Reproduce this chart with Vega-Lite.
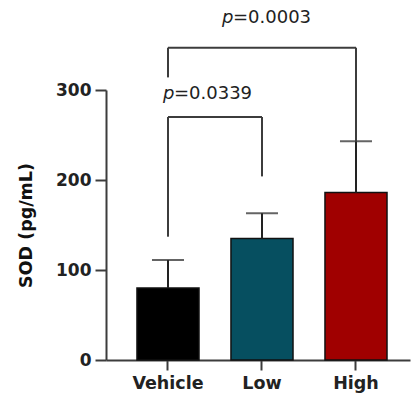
{
  "$schema": "https://vega.github.io/schema/vega-lite/v6.json",
  "autosize": {"type": "none"},
  "width": 304,
  "height": 270,
  "padding": {"left": 106, "top": 90, "right": 3, "bottom": 36},
  "config": {
    "view": {"stroke": null},
    "font": "DejaVu Sans",
    "axis": {
      "domainColor": "#3c3c3c",
      "domainWidth": 2,
      "tickColor": "#3c3c3c",
      "tickWidth": 2,
      "grid": false,
      "labelFont": "DejaVu Sans",
      "labelFontWeight": "bold",
      "labelColor": "#222222",
      "titleFont": "DejaVu Sans",
      "titleFontWeight": "bold",
      "titleColor": "#111111"
    }
  },
  "datasets": {
    "bars": [
      {"group": "Vehicle", "mean": 80, "upper": 111},
      {"group": "Low", "mean": 135, "upper": 163},
      {"group": "High", "mean": 186, "upper": 243}
    ],
    "brackets": [
      {"x1": "Vehicle", "x2": "Low", "y1": 270, "y2": 270},
      {"x1": "Vehicle", "x2": "Vehicle", "y1": 137, "y2": 270},
      {"x1": "Low", "x2": "Low", "y1": 204, "y2": 270},
      {"x1": "Vehicle", "x2": "High", "y1": 347, "y2": 347},
      {"x1": "Vehicle", "x2": "Vehicle", "y1": 314, "y2": 347},
      {"x1": "High", "x2": "High", "y1": 243, "y2": 347}
    ]
  },
  "layer": [
    {
      "data": {"name": "bars"},
      "mark": {"type": "bar", "stroke": "#111111", "strokeWidth": 1.5},
      "encoding": {
        "x": {
          "field": "group",
          "type": "nominal",
          "sort": null,
          "scale": {"domain": ["Vehicle", "Low", "High"], "paddingInner": 0.34, "paddingOuter": 0.287, "align": 0.574},
          "axis": {"title": null, "labelAngle": 0, "labelFontSize": 17.5, "tickSize": 10, "labelPadding": 4}
        },
        "y": {
          "field": "mean",
          "type": "quantitative",
          "scale": {"domain": [0, 300], "nice": false},
          "axis": {"title": "SOD (pg/mL)", "values": [0, 100, 200, 300], "labelFontSize": 17, "tickSize": 11, "labelPadding": 4, "titleFontSize": 17.5, "titlePadding": 20}
        },
        "color": {
          "field": "group",
          "type": "nominal",
          "scale": {"domain": ["Vehicle", "Low", "High"], "range": ["#000000", "#064f60", "#a00000"]},
          "legend": null
        }
      }
    },
    {
      "data": {"name": "bars"},
      "mark": {"type": "rule", "color": "#222222", "strokeWidth": 2},
      "encoding": {
        "x": {"field": "group", "type": "nominal", "sort": null},
        "y": {"field": "mean", "type": "quantitative"},
        "y2": {"field": "upper"}
      }
    },
    {
      "data": {"name": "bars"},
      "mark": {"type": "tick", "color": "#222222", "thickness": 2, "size": 32, "orient": "horizontal"},
      "encoding": {
        "x": {"field": "group", "type": "nominal", "sort": null},
        "y": {"field": "upper", "type": "quantitative"}
      }
    },
    {
      "data": {"name": "brackets"},
      "mark": {"type": "rule", "color": "#3c3c3c", "strokeWidth": 2},
      "encoding": {
        "x": {"field": "x1", "type": "nominal", "sort": null},
        "x2": {"field": "x2"},
        "y": {"field": "y1", "type": "quantitative"},
        "y2": {"field": "y2"}
      }
    },
    {
      "data": {"values": [{"group": "Vehicle", "y": 290, "t": "p"}]},
      "mark": {"type": "text", "align": "left", "baseline": "alphabetic", "fontSize": 18, "fontStyle": "italic", "color": "#222222", "dx": -5},
      "encoding": {
        "x": {"field": "group", "type": "nominal", "sort": null},
        "y": {"field": "y", "type": "quantitative"},
        "text": {"field": "t"}
      }
    },
    {
      "data": {"values": [{"group": "Low", "y": 374.5, "t": "p"}]},
      "mark": {"type": "text", "align": "left", "baseline": "alphabetic", "fontSize": 18, "fontStyle": "italic", "color": "#222222", "dx": -40},
      "encoding": {
        "x": {"field": "group", "type": "nominal", "sort": null},
        "y": {"field": "y", "type": "quantitative"},
        "text": {"field": "t"}
      }
    },
    {
      "data": {"values": [{"group": "Vehicle", "y": 290, "t": "=0.0339"}]},
      "mark": {"type": "text", "align": "left", "baseline": "alphabetic", "fontSize": 18, "color": "#222222", "dx": 6},
      "encoding": {
        "x": {"field": "group", "type": "nominal", "sort": null},
        "y": {"field": "y", "type": "quantitative"},
        "text": {"field": "t"}
      }
    },
    {
      "data": {"values": [{"group": "Low", "y": 374.5, "t": "=0.0003"}]},
      "mark": {"type": "text", "align": "left", "baseline": "alphabetic", "fontSize": 18, "color": "#222222", "dx": -29},
      "encoding": {
        "x": {"field": "group", "type": "nominal", "sort": null},
        "y": {"field": "y", "type": "quantitative"},
        "text": {"field": "t"}
      }
    }
  ]
}
